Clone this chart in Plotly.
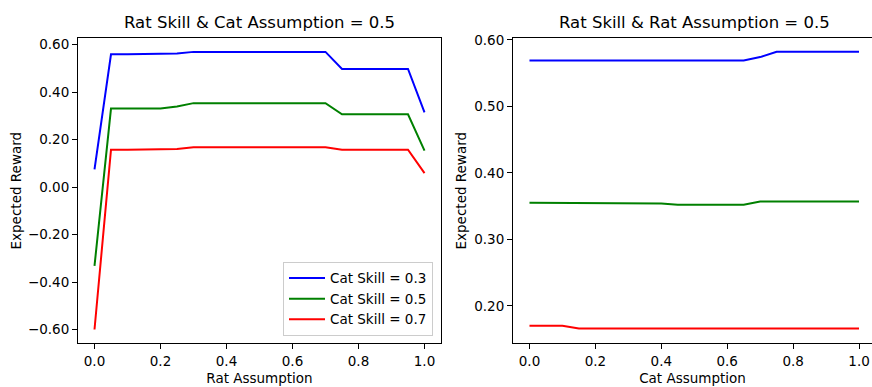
import plotly.graph_objects as go

assumption = [0.0, 0.05, 0.1, 0.15, 0.2, 0.25, 0.3, 0.35, 0.4, 0.45, 0.5,
              0.55, 0.6, 0.65, 0.7, 0.75, 0.8, 0.85, 0.9, 0.95, 1.0]

series_names = ["Cat Skill = 0.3", "Cat Skill = 0.5", "Cat Skill = 0.7"]
series_colors = ["#0000ff", "#008000", "#ff0000"]

# Left: Rat Skill & Cat Assumption = 0.5, x = Rat Assumption
left_cs03 = [0.075, 0.560, 0.560, 0.560, 0.560, 0.563, 0.570, 0.570, 0.570, 0.570, 0.570,
             0.570, 0.570, 0.570, 0.570, 0.498, 0.498, 0.498, 0.498, 0.498, 0.315]
left_cs05 = [-0.332, 0.331, 0.331, 0.331, 0.331, 0.340, 0.354, 0.354, 0.354, 0.354, 0.354,
             0.354, 0.354, 0.354, 0.354, 0.307, 0.307, 0.307, 0.307, 0.307, 0.154]
left_cs07 = [-0.600, 0.158, 0.158, 0.158, 0.158, 0.161, 0.168, 0.168, 0.168, 0.168, 0.168,
             0.168, 0.168, 0.168, 0.168, 0.158, 0.158, 0.158, 0.158, 0.158, 0.059]

# Right: Rat Skill & Rat Assumption = 0.5, x = Cat Assumption
right_cs03 = [0.569, 0.569, 0.569, 0.569, 0.569, 0.569, 0.569, 0.569, 0.569, 0.569, 0.569,
              0.569, 0.569, 0.569, 0.574, 0.582, 0.582, 0.582, 0.582, 0.582, 0.582]
right_cs05 = [0.355, 0.355, 0.355, 0.355, 0.355, 0.355, 0.355, 0.355, 0.354, 0.352, 0.352,
              0.352, 0.352, 0.352, 0.357, 0.357, 0.357, 0.357, 0.357, 0.357, 0.357]
right_cs07 = [0.170, 0.170, 0.170, 0.166, 0.166, 0.166, 0.166, 0.166, 0.166, 0.166, 0.166,
              0.166, 0.166, 0.166, 0.166, 0.166, 0.166, 0.166, 0.166, 0.166, 0.166]

left_ticks = [-0.6, -0.4, -0.2, 0.0, 0.2, 0.4, 0.6]
right_ticks = [0.2, 0.3, 0.4, 0.5, 0.6]
x_ticks = [0.0, 0.2, 0.4, 0.6, 0.8, 1.0]

FONT = "DejaVu Sans"
W, H = 872, 387

fig = go.Figure()
for ys, name, col in zip([left_cs03, left_cs05, left_cs07], series_names, series_colors):
    fig.add_trace(go.Scatter(x=assumption, y=ys, mode="lines", name=name,
                             line=dict(color=col, width=2), xaxis="x", yaxis="y"))
for ys, name, col in zip([right_cs03, right_cs05, right_cs07], series_names, series_colors):
    fig.add_trace(go.Scatter(x=assumption, y=ys, mode="lines", name=name, showlegend=False,
                             line=dict(color=col, width=2), xaxis="x2", yaxis="y2"))

ydom = [1 - 342.7 / H, 1 - 32.5 / H]
axis_common = dict(showgrid=False, zeroline=False, showline=True, linecolor="black",
                   linewidth=1.1, ticks="outside", ticklen=5, tickwidth=1.1,
                   tickcolor="black", tickfont=dict(family=FONT, size=13.5, color="black"))

fig.update_layout(
    width=W, height=H,
    margin=dict(l=0, r=0, t=0, b=0),
    paper_bgcolor="white", plot_bgcolor="white",
    font=dict(family=FONT, color="black"),
    showlegend=True,
    legend=dict(x=433 / W, y=1 - 335 / H, xanchor="right", yanchor="bottom",
                bgcolor="white", bordercolor="#cccccc", borderwidth=1,
                font=dict(family=FONT, size=13.5, color="black"),
                tracegroupgap=0, itemwidth=36),
    xaxis=dict(domain=[78 / W, 441 / W], range=[-0.05, 1.05], tickvals=x_ticks,
               tickformat=".1f", mirror=True, anchor="y",
               title=dict(text="Rat Assumption", font=dict(family=FONT, size=13.5), standoff=5),
               **axis_common),
    yaxis=dict(domain=ydom, range=[-0.6585, 0.6285], tickvals=left_ticks,
               tickformat=".2f", mirror=True, anchor="x",
               title=dict(text="Expected Reward", font=dict(family=FONT, size=13.5), standoff=3),
               **axis_common),
    xaxis2=dict(domain=[513 / W, 1.0], range=[-0.05, 1.05 - 3.5 / 329.3], tickvals=x_ticks,
                tickformat=".1f", mirror=True, anchor="y2",
                title=dict(text="Cat Assumption", font=dict(family=FONT, size=13.5), standoff=5),
                **axis_common),
    yaxis2=dict(domain=ydom, range=[0.1436, 0.6027], tickvals=right_ticks,
                tickformat=".2f", mirror=False, anchor="x2",
                title=dict(text="Expected Reward", font=dict(family=FONT, size=13.5), standoff=4),
                **axis_common),
    annotations=[
        dict(text="Rat Skill & Cat Assumption = 0.5", x=(78 + 441) / 2 / W, y=1 - 17 / H,
             xref="paper", yref="paper", showarrow=False, xanchor="center", yanchor="middle",
             font=dict(family=FONT, size=16.5, color="black")),
        dict(text="Rat Skill & Rat Assumption = 0.5", x=(513 + 875.5) / 2 / W, y=1 - 17 / H,
             xref="paper", yref="paper", showarrow=False, xanchor="center", yanchor="middle",
             font=dict(family=FONT, size=16.5, color="black")),
    ],
)

fig.write_html("out.html")
